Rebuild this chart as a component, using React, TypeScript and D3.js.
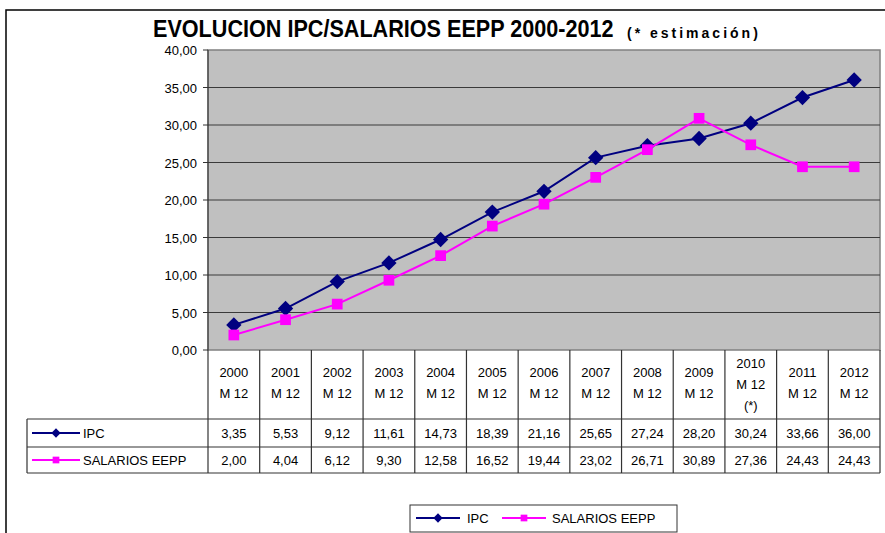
import React, { useEffect, useRef } from 'react';
import * as d3 from 'd3';

const years = ['2000', '2001', '2002', '2003', '2004', '2005', '2006', '2007', '2008', '2009', '2010', '2011', '2012'];
const estimated = ['2010'];
const ipc = [3.35, 5.53, 9.12, 11.61, 14.73, 18.39, 21.16, 25.65, 27.24, 28.2, 30.24, 33.66, 36.0];
const salarios = [2.0, 4.04, 6.12, 9.3, 12.58, 16.52, 19.44, 23.02, 26.71, 30.89, 27.36, 24.43, 24.43];
const yTicks = [0, 5, 10, 15, 20, 25, 30, 35, 40];

const series = [
  { name: 'IPC', values: ipc, color: '#000080', marker: 'diamond' },
  { name: 'SALARIOS EEPP', values: salarios, color: '#FF00FF', marker: 'square' },
];

const FONT = 'Liberation Sans, Arial, sans-serif';
const fmt = (v: number) => d3.format('.2f')(v).replace('.', ',');

export default function App() {
  const svgRef = useRef<SVGSVGElement>(null);

  useEffect(() => {
    const svg = d3.select(svgRef.current);
    svg.selectAll('*').remove();

    const left = 208, right = 880, top = 50, bottom = 350;
    const x = d3.scaleBand().domain(years).range([left, right]);
    const y = d3.scaleLinear().domain([0, 40]).range([bottom, top]);
    const cx = (d: string) => (x(d) as number) + x.bandwidth() / 2;

    // outer frame
    svg.append('rect')
      .attr('x', 6).attr('y', 10).attr('width', 920).attr('height', 600)
      .attr('fill', 'white').attr('stroke', '#000').attr('stroke-width', 1.5);

    // title (condensed like the original)
    svg.append('text')
      .attr('transform', 'translate(153,37) scale(0.9,1)')
      .attr('font-family', FONT).attr('font-weight', 'bold').attr('font-size', 24)
      .text('EVOLUCION IPC/SALARIOS EEPP 2000-2012');
    svg.append('text')
      .attr('x', 627).attr('y', 38)
      .attr('font-family', FONT).attr('font-weight', 'bold').attr('font-size', 14)
      .attr('letter-spacing', 3)
      .text('(* estimación)');

    // plot area
    svg.append('rect')
      .attr('x', left).attr('y', top).attr('width', right - left).attr('height', bottom - top)
      .attr('fill', '#C0C0C0').attr('stroke', '#808080').attr('stroke-width', 1.5);

    svg.selectAll('.grid').data(yTicks.filter(t => t > 0 && t < 40))
      .enter().append('line')
      .attr('class', 'grid')
      .attr('x1', left).attr('x2', right)
      .attr('y1', d => y(d)).attr('y2', d => y(d))
      .attr('stroke', '#3a3a3a').attr('stroke-width', 1);

    // y axis
    svg.append('line')
      .attr('x1', left).attr('x2', left).attr('y1', top).attr('y2', bottom)
      .attr('stroke', '#333');
    svg.selectAll('.ytick').data(yTicks)
      .enter().append('line')
      .attr('x1', left - 5).attr('x2', left)
      .attr('y1', d => y(d)).attr('y2', d => y(d))
      .attr('stroke', '#333');
    svg.selectAll('.ylabel').data(yTicks)
      .enter().append('text')
      .attr('x', 197).attr('y', d => y(d) + 5)
      .attr('text-anchor', 'end')
      .attr('font-family', FONT).attr('font-size', 13)
      .text(d => fmt(d));

    // series
    const markerPath = (m: string, s: number) =>
      d3.symbol().type(m === 'diamond' ? d3.symbolDiamond2 : d3.symbolSquare).size(s)();

    series.forEach(s => {
      const line = d3.line<number>()
        .x((_, i) => cx(years[i]))
        .y(d => y(d));
      svg.append('path')
        .attr('d', line(s.values))
        .attr('fill', 'none').attr('stroke', s.color).attr('stroke-width', 2);
      svg.selectAll('.m-' + s.marker).data(s.values)
        .enter().append('path')
        .attr('transform', (d, i) => 'translate(' + cx(years[i]) + ',' + y(d) + ')')
        .attr('d', markerPath(s.marker, s.marker === 'diamond' ? 150 : 115))
        .attr('fill', s.color);
    });

    // data table
    const tLeft = 27, headBottom = 419, row1 = 447, row2 = 473;
    const tline = (x1: number, y1: number, x2: number, y2: number) =>
      svg.append('line').attr('x1', x1).attr('y1', y1).attr('x2', x2).attr('y2', y2)
        .attr('stroke', '#333').attr('stroke-width', 1.2);

    const bounds = years.map(d => x(d) as number).concat([right]);
    bounds.forEach(b => tline(b, bottom, b, row2));
    tline(tLeft, headBottom, right, headBottom);
    tline(tLeft, row1, right, row1);
    tline(tLeft, row2, right, row2);
    tline(tLeft, headBottom, tLeft, row2);

    years.forEach(yr => {
      const lines = estimated.includes(yr) ? [yr, 'M 12', '(*)'] : [yr, 'M 12'];
      const y0 = estimated.includes(yr) ? 368 : 377;
      lines.forEach((t, i) => {
        svg.append('text')
          .attr('x', cx(yr)).attr('y', y0 + i * 21)
          .attr('text-anchor', 'middle')
          .attr('font-family', FONT).attr('font-size', 13)
          .text(t);
      });
    });

    const drawKey = (s: typeof series[0], x0: number, yy: number, big: boolean) => {
      const w = big ? 44 : 48;
      svg.append('line')
        .attr('x1', x0).attr('x2', x0 + w).attr('y1', yy).attr('y2', yy)
        .attr('stroke', s.color).attr('stroke-width', 2);
      svg.append('path')
        .attr('transform', 'translate(' + (x0 + w / 2) + ',' + yy + ')')
        .attr('d', markerPath(s.marker, s.marker === 'diamond' ? 55 : 45))
        .attr('fill', s.color);
    };

    series.forEach((s, si) => {
      const rowMid = si === 0 ? (headBottom + row1) / 2 : (row1 + row2) / 2;
      drawKey(s, 32, rowMid, false);
      svg.append('text')
        .attr('x', 83).attr('y', rowMid + 5)
        .attr('font-family', FONT).attr('font-size', 13)
        .text(s.name);
      s.values.forEach((v, i) => {
        svg.append('text')
          .attr('x', cx(years[i])).attr('y', rowMid + 5)
          .attr('text-anchor', 'middle')
          .attr('font-family', FONT).attr('font-size', 13)
          .text(fmt(v));
      });
    });

    // legend box
    svg.append('rect')
      .attr('x', 410).attr('y', 505).attr('width', 267).attr('height', 27)
      .attr('fill', 'white').attr('stroke', '#333').attr('stroke-width', 1);
    const legendX = [416, 502];
    const legendText = [467, 552];
    series.forEach((s, i) => {
      drawKey(s, legendX[i], 518, true);
      svg.append('text')
        .attr('x', legendText[i]).attr('y', 523)
        .attr('font-family', FONT).attr('font-size', 13)
        .text(s.name);
    });
  }, []);

  return (
    <svg ref={svgRef} width={885} height={533}
      style={{ position: 'absolute', left: 0, top: 0 }} />
  );
}
